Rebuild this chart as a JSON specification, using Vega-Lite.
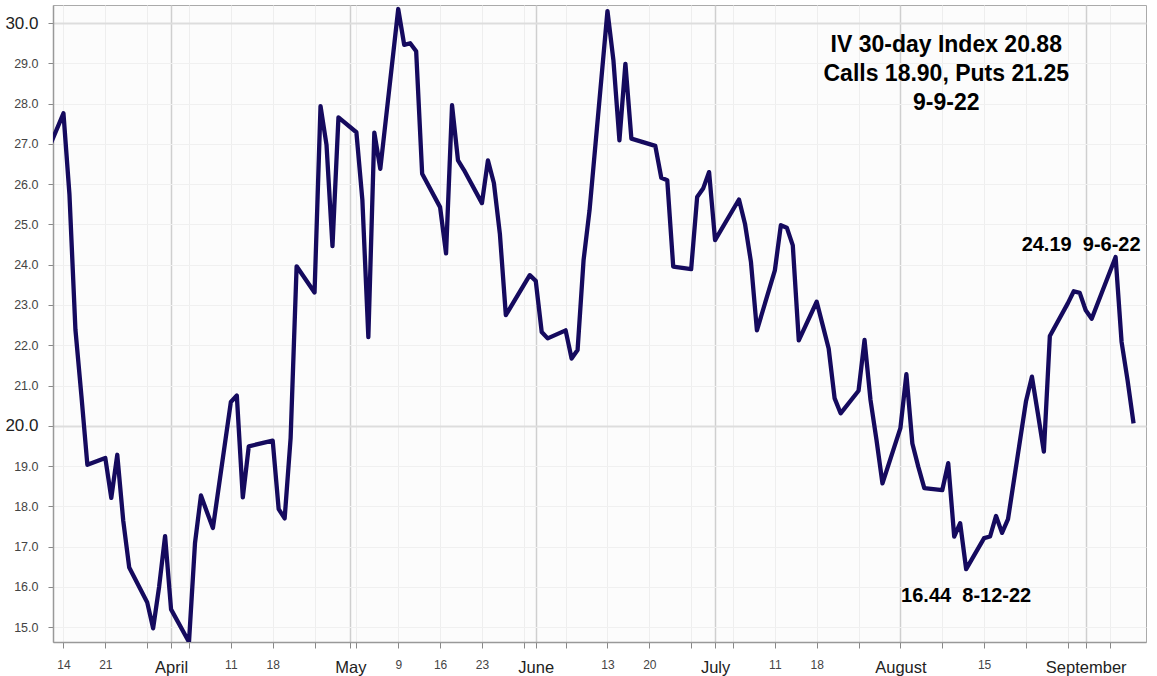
{
  "$schema": "https://vega.github.io/schema/vega-lite/v6.json",
  "width": 1093,
  "height": 637,
  "autosize": {"type": "none"},
  "padding": {"left": 53, "top": 5, "right": 11, "bottom": 34},
  "background": "white",
  "config": {
    "view": {"fill": "#fcfcfc", "stroke": "#aaaaaa", "strokeWidth": 1},
    "font": "Liberation Sans"
  },
  "datasets": {
    "iv": [
      {"date": "2022-03-11", "value": 26.70},
      {"date": "2022-03-14", "value": 27.76},
      {"date": "2022-03-15", "value": 25.75},
      {"date": "2022-03-16", "value": 22.39},
      {"date": "2022-03-17", "value": 20.75},
      {"date": "2022-03-18", "value": 19.03},
      {"date": "2022-03-21", "value": 19.20},
      {"date": "2022-03-22", "value": 18.21},
      {"date": "2022-03-23", "value": 19.28},
      {"date": "2022-03-24", "value": 17.64},
      {"date": "2022-03-25", "value": 16.48},
      {"date": "2022-03-28", "value": 15.62},
      {"date": "2022-03-29", "value": 14.97},
      {"date": "2022-03-30", "value": 16.00},
      {"date": "2022-03-31", "value": 17.26},
      {"date": "2022-04-01", "value": 15.44},
      {"date": "2022-04-04", "value": 14.63},
      {"date": "2022-04-05", "value": 17.08},
      {"date": "2022-04-06", "value": 18.27},
      {"date": "2022-04-07", "value": 17.86},
      {"date": "2022-04-08", "value": 17.46},
      {"date": "2022-04-11", "value": 20.59},
      {"date": "2022-04-12", "value": 20.75},
      {"date": "2022-04-13", "value": 18.22},
      {"date": "2022-04-14", "value": 19.49},
      {"date": "2022-04-18", "value": 19.63},
      {"date": "2022-04-19", "value": 17.93},
      {"date": "2022-04-20", "value": 17.70},
      {"date": "2022-04-21", "value": 19.70},
      {"date": "2022-04-22", "value": 23.96},
      {"date": "2022-04-25", "value": 23.31},
      {"date": "2022-04-26", "value": 27.94},
      {"date": "2022-04-27", "value": 26.98},
      {"date": "2022-04-28", "value": 24.46},
      {"date": "2022-04-29", "value": 27.66},
      {"date": "2022-05-02", "value": 27.29},
      {"date": "2022-05-03", "value": 25.61},
      {"date": "2022-05-04", "value": 22.20},
      {"date": "2022-05-05", "value": 27.28},
      {"date": "2022-05-06", "value": 26.38},
      {"date": "2022-05-09", "value": 30.35},
      {"date": "2022-05-10", "value": 29.46},
      {"date": "2022-05-11", "value": 29.50},
      {"date": "2022-05-12", "value": 29.30},
      {"date": "2022-05-13", "value": 26.26},
      {"date": "2022-05-16", "value": 25.43},
      {"date": "2022-05-17", "value": 24.28},
      {"date": "2022-05-18", "value": 27.96},
      {"date": "2022-05-19", "value": 26.59},
      {"date": "2022-05-20", "value": 26.35},
      {"date": "2022-05-23", "value": 25.53},
      {"date": "2022-05-24", "value": 26.59},
      {"date": "2022-05-25", "value": 26.03},
      {"date": "2022-05-26", "value": 24.77},
      {"date": "2022-05-27", "value": 22.75},
      {"date": "2022-05-31", "value": 23.74},
      {"date": "2022-06-01", "value": 23.60},
      {"date": "2022-06-02", "value": 22.33},
      {"date": "2022-06-03", "value": 22.17},
      {"date": "2022-06-06", "value": 22.37},
      {"date": "2022-06-07", "value": 21.67},
      {"date": "2022-06-08", "value": 21.88},
      {"date": "2022-06-09", "value": 24.11},
      {"date": "2022-06-10", "value": 25.35},
      {"date": "2022-06-13", "value": 30.30},
      {"date": "2022-06-14", "value": 29.07},
      {"date": "2022-06-15", "value": 27.09},
      {"date": "2022-06-16", "value": 28.99},
      {"date": "2022-06-17", "value": 27.13},
      {"date": "2022-06-21", "value": 26.95},
      {"date": "2022-06-22", "value": 26.16},
      {"date": "2022-06-23", "value": 26.10},
      {"date": "2022-06-24", "value": 23.95},
      {"date": "2022-06-27", "value": 23.89},
      {"date": "2022-06-28", "value": 25.68},
      {"date": "2022-06-29", "value": 25.89},
      {"date": "2022-06-30", "value": 26.30},
      {"date": "2022-07-01", "value": 24.61},
      {"date": "2022-07-05", "value": 25.62},
      {"date": "2022-07-06", "value": 25.02},
      {"date": "2022-07-07", "value": 24.07},
      {"date": "2022-07-08", "value": 22.37},
      {"date": "2022-07-11", "value": 23.86},
      {"date": "2022-07-12", "value": 24.98},
      {"date": "2022-07-13", "value": 24.92},
      {"date": "2022-07-14", "value": 24.48},
      {"date": "2022-07-15", "value": 22.12},
      {"date": "2022-07-18", "value": 23.08},
      {"date": "2022-07-19", "value": 22.50},
      {"date": "2022-07-20", "value": 21.92},
      {"date": "2022-07-21", "value": 20.68},
      {"date": "2022-07-22", "value": 20.31},
      {"date": "2022-07-25", "value": 20.87},
      {"date": "2022-07-26", "value": 22.13},
      {"date": "2022-07-27", "value": 20.64},
      {"date": "2022-07-28", "value": 19.65},
      {"date": "2022-07-29", "value": 18.57},
      {"date": "2022-08-01", "value": 19.94},
      {"date": "2022-08-02", "value": 21.28},
      {"date": "2022-08-03", "value": 19.56},
      {"date": "2022-08-04", "value": 18.98},
      {"date": "2022-08-05", "value": 18.45},
      {"date": "2022-08-08", "value": 18.40},
      {"date": "2022-08-09", "value": 19.07},
      {"date": "2022-08-10", "value": 17.25},
      {"date": "2022-08-11", "value": 17.58},
      {"date": "2022-08-12", "value": 16.44},
      {"date": "2022-08-15", "value": 17.21},
      {"date": "2022-08-16", "value": 17.25},
      {"date": "2022-08-17", "value": 17.76},
      {"date": "2022-08-18", "value": 17.34},
      {"date": "2022-08-19", "value": 17.68},
      {"date": "2022-08-22", "value": 20.60},
      {"date": "2022-08-23", "value": 21.22},
      {"date": "2022-08-24", "value": 20.30},
      {"date": "2022-08-25", "value": 19.36},
      {"date": "2022-08-26", "value": 22.23},
      {"date": "2022-08-29", "value": 23.04},
      {"date": "2022-08-30", "value": 23.34},
      {"date": "2022-08-31", "value": 23.30},
      {"date": "2022-09-01", "value": 22.87},
      {"date": "2022-09-02", "value": 22.66},
      {"date": "2022-09-06", "value": 24.19},
      {"date": "2022-09-07", "value": 22.08},
      {"date": "2022-09-08", "value": 21.13},
      {"date": "2022-09-09", "value": 20.06}
    ],
    "notes": [
      {"kind": "title", "date": "2022-08-09", "value": 29.445, "label": "IV 30-day Index 20.88"},
      {"kind": "title", "date": "2022-08-09", "value": 28.727, "label": "Calls 18.90, Puts 21.25"},
      {"kind": "title", "date": "2022-08-09", "value": 28.007, "label": "9-9-22"},
      {"kind": "peak", "date": "2022-09-06", "value": 24.19, "label": "24.19\u00a0\u00a09-6-22"},
      {"kind": "low", "date": "2022-08-12", "value": 16.44, "label": "16.44\u00a0\u00a08-12-22"}
    ]
  },
  "encoding": {
    "x": {
      "field": "date",
      "type": "temporal",
      "scale": {
        "type": "utc",
        "domain": [
          {"year": 2022, "month": 3, "date": 12, "hours": 6, "utc": true},
          {"year": 2022, "month": 9, "date": 11, "hours": 2, "utc": true}
        ]
      },
      "axis": {
        "title": null,
        "values": [
          {"year": 2022, "month": 3, "date": 14, "utc": true},
          {"year": 2022, "month": 3, "date": 21, "utc": true},
          {"year": 2022, "month": 3, "date": 28, "utc": true},
          {"year": 2022, "month": 4, "date": 1, "utc": true},
          {"year": 2022, "month": 4, "date": 4, "utc": true},
          {"year": 2022, "month": 4, "date": 11, "utc": true},
          {"year": 2022, "month": 4, "date": 18, "utc": true},
          {"year": 2022, "month": 4, "date": 25, "utc": true},
          {"year": 2022, "month": 5, "date": 1, "utc": true},
          {"year": 2022, "month": 5, "date": 2, "utc": true},
          {"year": 2022, "month": 5, "date": 9, "utc": true},
          {"year": 2022, "month": 5, "date": 16, "utc": true},
          {"year": 2022, "month": 5, "date": 23, "utc": true},
          {"year": 2022, "month": 5, "date": 30, "utc": true},
          {"year": 2022, "month": 6, "date": 1, "utc": true},
          {"year": 2022, "month": 6, "date": 6, "utc": true},
          {"year": 2022, "month": 6, "date": 13, "utc": true},
          {"year": 2022, "month": 6, "date": 20, "utc": true},
          {"year": 2022, "month": 6, "date": 27, "utc": true},
          {"year": 2022, "month": 7, "date": 1, "utc": true},
          {"year": 2022, "month": 7, "date": 4, "utc": true},
          {"year": 2022, "month": 7, "date": 11, "utc": true},
          {"year": 2022, "month": 7, "date": 18, "utc": true},
          {"year": 2022, "month": 7, "date": 25, "utc": true},
          {"year": 2022, "month": 8, "date": 1, "utc": true},
          {"year": 2022, "month": 8, "date": 8, "utc": true},
          {"year": 2022, "month": 8, "date": 15, "utc": true},
          {"year": 2022, "month": 8, "date": 22, "utc": true},
          {"year": 2022, "month": 8, "date": 29, "utc": true},
          {"year": 2022, "month": 9, "date": 1, "utc": true},
          {"year": 2022, "month": 9, "date": 5, "utc": true}
        ],
        "labelExpr": "utcdate(datum.value) == 1 ? utcFormat(datum.value, '%B') : (indexof(['3-14','3-21','4-11','4-18','5-9','5-16','5-23','6-13','6-20','7-11','7-18','8-15'], (utcmonth(datum.value) + 1) + '-' + utcdate(datum.value)) >= 0 ? '' + utcdate(datum.value) : '')",
        "labelFontSize": {"condition": {"test": "utcdate(datum.value) == 1", "value": 16.5}, "value": 12},
        "labelColor": {"condition": {"test": "utcdate(datum.value) == 1", "value": "#222222"}, "value": "#444444"},
        "gridColor": {"condition": {"test": "utcdate(datum.value) == 1", "value": "#cfcfcf"}, "value": "#eeeeee"},
        "gridWidth": {"condition": {"test": "utcdate(datum.value) == 1", "value": 1.5}, "value": 1},
        "labelOverlap": false,
        "labelFlush": false,
        "labelPadding": 11,
        "tickSize": 6,
        "tickColor": "#888888",
        "domainColor": "#999999",
        "domainWidth": 1.5
      }
    },
    "y": {
      "field": "value",
      "type": "quantitative",
      "scale": {"domain": [14.63, 30.45], "nice": false, "zero": false},
      "axis": {
        "title": null,
        "values": [15, 16, 17, 18, 19, 20, 21, 22, 23, 24, 25, 26, 27, 28, 29, 30],
        "format": ".1f",
        "labelFontSize": {"condition": {"test": "datum.value == 20 || datum.value == 30", "value": 17}, "value": 12.5},
        "labelColor": {"condition": {"test": "datum.value == 20 || datum.value == 30", "value": "#222222"}, "value": "#444444"},
        "gridColor": {"condition": {"test": "datum.value == 20 || datum.value == 30", "value": "#dddddd"}, "value": "#f0f0f0"},
        "gridWidth": {"condition": {"test": "datum.value == 20 || datum.value == 30", "value": 2}, "value": 1},
        "labelPadding": 10,
        "tickSize": 5,
        "tickColor": "#888888",
        "domainColor": "#999999",
        "domainWidth": 1.5
      }
    }
  },
  "layer": [
    {
      "data": {"name": "iv"},
      "mark": {"type": "line", "color": "#150a5e", "strokeWidth": 4.3, "clip": true, "strokeJoin": "round"}
    },
    {
      "data": {"name": "notes"},
      "transform": [{"filter": "datum.kind == 'title'"}],
      "mark": {"type": "text", "fontSize": 23, "fontWeight": "bold", "color": "#000000", "align": "center", "baseline": "middle", "dx": -2},
      "encoding": {"text": {"field": "label", "type": "nominal"}}
    },
    {
      "data": {"name": "notes"},
      "transform": [{"filter": "datum.kind == 'peak'"}],
      "mark": {"type": "text", "fontSize": 20, "fontWeight": "bold", "color": "#000000", "align": "right", "baseline": "middle", "dx": 25, "dy": -12},
      "encoding": {"text": {"field": "label", "type": "nominal"}}
    },
    {
      "data": {"name": "notes"},
      "transform": [{"filter": "datum.kind == 'low'"}],
      "mark": {"type": "text", "fontSize": 20, "fontWeight": "bold", "color": "#000000", "align": "center", "baseline": "middle", "dy": 27},
      "encoding": {"text": {"field": "label", "type": "nominal"}}
    }
  ]
}
